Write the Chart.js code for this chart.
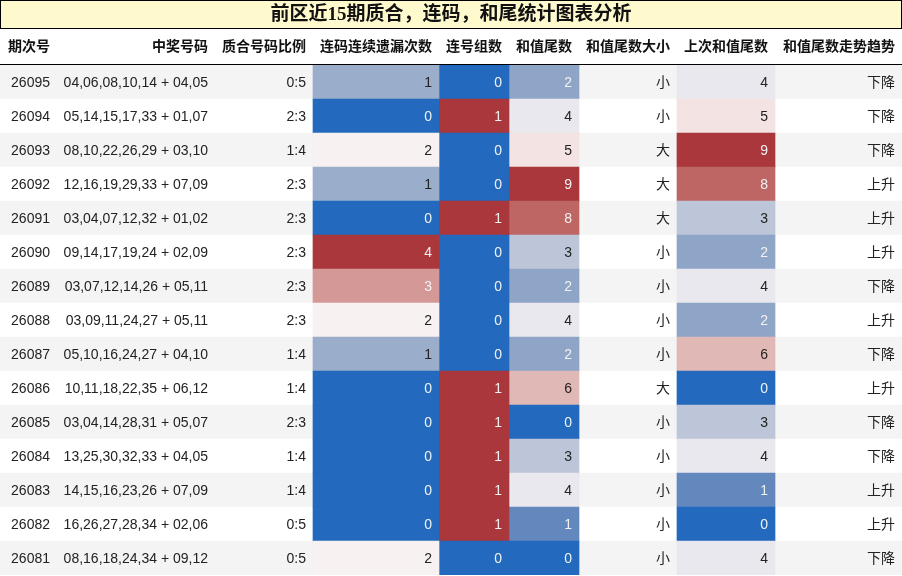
<!DOCTYPE html>
<html>
<head>
<meta charset="utf-8">
<script src="https://cdn.jsdelivr.net/npm/chart.js@4.4.1/dist/chart.umd.min.js"></script>
<style>
    html, body { margin: 0; padding: 0; background: #fff; }
    #wrap { width: 902px; height: 576px; position: relative; }
</style>
</head>
<body>
<div id="wrap"><canvas id="statChart"></canvas></div>
<script>
// ---- data ----
const titleText = '前区近15期质合，连码，和尾统计图表分析';
const headers = ['期次号', '中奖号码', '质合号码比例', '连码连续遗漏次数', '连号组数', '和值尾数', '和值尾数大小', '上次和值尾数', '和值尾数走势趋势'];
const periods = ['26095', '26094', '26093', '26092', '26091', '26090', '26089', '26088', '26087', '26086', '26085', '26084', '26083', '26082', '26081'];
const numbers = [
    '04,06,08,10,14 + 04,05', '05,14,15,17,33 + 01,07', '08,10,22,26,29 + 03,10',
    '12,16,19,29,33 + 07,09', '03,04,07,12,32 + 01,02', '09,14,17,19,24 + 02,09',
    '03,07,12,14,26 + 05,11', '03,09,11,24,27 + 05,11', '05,10,16,24,27 + 04,10',
    '10,11,18,22,35 + 06,12', '03,04,14,28,31 + 05,07', '13,25,30,32,33 + 04,05',
    '14,15,16,23,26 + 07,09', '16,26,27,28,34 + 02,06', '08,16,18,24,34 + 09,12'
];
const primeRatio = ['0:5', '2:3', '1:4', '2:3', '2:3', '2:3', '2:3', '2:3', '1:4', '1:4', '2:3', '1:4', '1:4', '0:5', '0:5'];
const missCount = [1, 0, 2, 1, 0, 4, 3, 2, 1, 0, 0, 0, 0, 0, 2];
const consecGroups = [0, 1, 0, 0, 1, 0, 0, 0, 0, 1, 1, 1, 1, 1, 0];
const sumTail = [2, 4, 5, 9, 8, 3, 2, 4, 2, 6, 0, 3, 4, 1, 0];
const tailSize = ['小', '小', '大', '大', '大', '小', '小', '小', '小', '大', '小', '小', '小', '小', '小'];
const prevTail = [4, 5, 9, 8, 3, 2, 4, 2, 6, 0, 3, 4, 1, 0, 4];
const trend = ['下降', '下降', '下降', '上升', '上升', '上升', '下降', '上升', '下降', '上升', '下降', '下降', '上升', '上升', '下降'];

// ---- layout ----
const W = 902;
const colEdges = [0, 57, 215, 313, 439, 509, 579, 677, 775, 902];
const cellPad = 7;
const bodyFont = '14px "Liberation Sans", "Noto Sans CJK SC", sans-serif';
const headFont = 'bold 14px "Liberation Sans", "Noto Sans CJK SC", sans-serif';
const titleFont = 'bold 19px "Liberation Serif", "Noto Sans CJK SC", serif';

// vlag-like diverging colormap, sampled by eye
const vlagStops = [
    [0.000, [35, 105, 189]],
    [0.111, [98, 136, 190]],
    [0.222, [143, 165, 200]],
    [0.250, [154, 174, 204]],
    [0.333, [188, 198, 216]],
    [0.444, [233, 232, 238]],
    [0.500, [247, 241, 241]],
    [0.556, [243, 227, 227]],
    [0.667, [224, 184, 182]],
    [0.750, [212, 153, 151]],
    [0.889, [189, 102, 99]],
    [1.000, [169, 55, 59]]
];

function vlag(t) {
    for (let i = 1; i < vlagStops.length; i++) {
        const [t1, c1] = vlagStops[i];
        const [t0, c0] = vlagStops[i - 1];
        if (t <= t1) {
            const f = (t - t0) / (t1 - t0);
            return c0.map((v, k) => Math.round(v + (c1[k] - v) * f));
        }
    }
    return vlagStops[vlagStops.length - 1][1];
}

function gradient(values) {
    const lo = Math.min(...values), hi = Math.max(...values);
    return values.map(v => vlag(hi === lo ? 0 : (v - lo) / (hi - lo)));
}

function rgb(c) { return `rgb(${c[0]},${c[1]},${c[2]})`; }

// same rule pandas uses to pick light/dark text on a gradient cell
function textOn(c) {
    const lin = c.map(v => {
        v /= 255;
        return v <= 0.04045 ? v / 12.92 : Math.pow((v + 0.055) / 1.055, 2.4);
    });
    const lum = 0.2126 * lin[0] + 0.7152 * lin[1] + 0.0722 * lin[2];
    return lum < 0.408 ? '#f1f1f1' : '#222';
}

const missColors = gradient(missCount);
const consecColors = gradient(consecGroups);
const sumColors = gradient(sumTail);
const prevColors = gradient(prevTail);

// column index -> [text list, colours or null]
const columns = [
    [periods, null],
    [numbers, null],
    [primeRatio, null],
    [missCount, missColors],
    [consecGroups, consecColors],
    [sumTail, sumColors],
    [tailSize, null],
    [prevTail, prevColors],
    [trend, null]
];

function cellBar(col, colors) {
    return {
        data: periods.map(() => [colEdges[col], colEdges[col + 1]]),
        backgroundColor: colors.map(rgb),
        order: 0
    };
}

const tableText = {
    id: 'tableText',
    beforeDraw(chart) {
        const ctx = chart.ctx;
        ctx.save();
        // title box
        ctx.fillStyle = '#fffacd';
        ctx.fillRect(0, 0, W, 29);
        ctx.strokeStyle = '#000';
        ctx.lineWidth = 1;
        ctx.strokeRect(0.5, 0.5, W - 1, 28);
        ctx.fillStyle = '#111';
        ctx.font = titleFont;
        ctx.textAlign = 'center';
        ctx.textBaseline = 'middle';
        ctx.fillText(titleText, W / 2, 15);
        // header row
        ctx.font = headFont;
        ctx.textAlign = 'right';
        ctx.fillStyle = '#111';
        headers.forEach((h, c) => {
            ctx.fillText(h, colEdges[c + 1] - cellPad, 47);
        });
        ctx.beginPath();
        ctx.moveTo(0, 64.5);
        ctx.lineTo(W, 64.5);
        ctx.stroke();
        ctx.restore();
    },
    afterDatasetsDraw(chart) {
        const ctx = chart.ctx;
        const y = chart.scales.y;
        ctx.save();
        ctx.font = bodyFont;
        ctx.textAlign = 'right';
        ctx.textBaseline = 'middle';
        periods.forEach((p, i) => {
            const yc = y.getPixelForValue(i) + 1;
            columns.forEach(([vals, colors], c) => {
                ctx.fillStyle = colors ? textOn(colors[i]) : '#222';
                ctx.fillText(String(vals[i]), colEdges[c + 1] - cellPad, yc);
            });
        });
        ctx.restore();
    }
};

document.addEventListener('DOMContentLoaded', () => {
    const ctx = document.getElementById('statChart').getContext('2d');

    new Chart(ctx, {
        type: 'bar',
        data: {
            labels: periods,
            datasets: [
                // alternating row stripes underneath everything
                {
                    data: periods.map(() => [0, W]),
                    backgroundColor: periods.map((p, i) => i % 2 === 0 ? '#f4f4f4' : '#ffffff'),
                    order: 1
                },
                cellBar(3, missColors),
                cellBar(4, consecColors),
                cellBar(5, sumColors),
                cellBar(7, prevColors)
            ]
        },
        options: {
            indexAxis: 'y',
            responsive: true,
            maintainAspectRatio: false,
            animation: false,
            grouped: false,
            barPercentage: 1,
            categoryPercentage: 1,
            borderWidth: 0,
            layout: {
                padding: { top: 65, bottom: 1, left: 0, right: 0 }
            },
            plugins: {
                legend: { display: false },
                tooltip: { enabled: false }
            },
            scales: {
                x: { type: 'linear', min: 0, max: W, display: false },
                y: { display: false }
            }
        },
        plugins: [tableText]
    });
});
</script>
</body>
</html>
